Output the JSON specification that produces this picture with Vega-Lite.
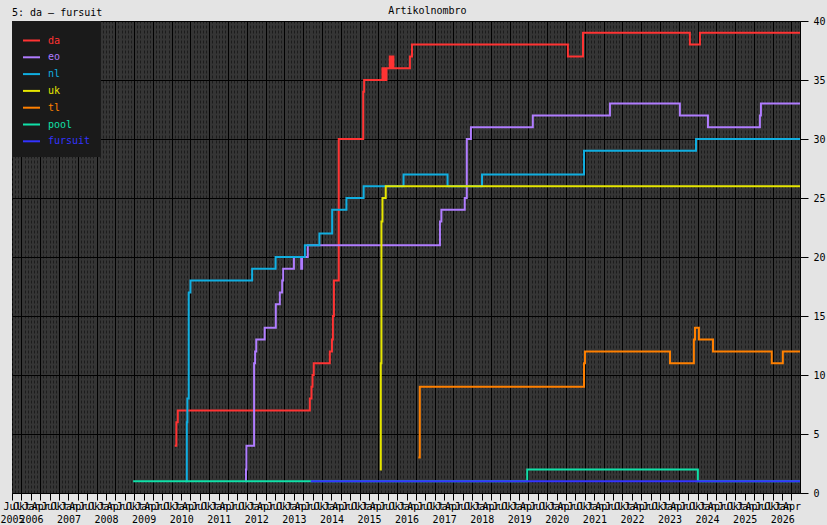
{
  "$schema": "https://vega.github.io/schema/vega-lite/v6.json",
  "width": 788,
  "height": 472,
  "autosize": "none",
  "padding": {"left": 12, "top": 21, "right": 27, "bottom": 32},
  "background": "#e4e4e4",
  "config": {
    "view": {"fill": "#353535", "stroke": "#000000", "strokeWidth": 1},
    "font": "DejaVu Sans Mono",
    "axis": {"labelFont": "DejaVu Sans Mono", "labelFontSize": 10, "labelColor": "#000000", "tickColor": "#000000", "domain": false, "titleFont": "DejaVu Sans Mono"},
    "title": {"font": "DejaVu Sans Mono", "fontSize": 10, "fontWeight": "normal", "color": "#000000"}
  },
  "title": {"text": "5: da – fursuit", "anchor": "start", "frame": "group", "offset": -21, "baseline": "alphabetic"},
  "data": {"values": [
    {"series": "da", "date": "2009-10-30", "value": 4},
    {"series": "da", "date": "2009-11-15", "value": 6},
    {"series": "da", "date": "2009-11-29", "value": 7},
    {"series": "da", "date": "2013-06-05", "value": 8},
    {"series": "da", "date": "2013-06-21", "value": 9},
    {"series": "da", "date": "2013-07-01", "value": 10},
    {"series": "da", "date": "2013-07-13", "value": 11},
    {"series": "da", "date": "2013-12-16", "value": 12},
    {"series": "da", "date": "2014-01-06", "value": 13},
    {"series": "da", "date": "2014-01-15", "value": 15},
    {"series": "da", "date": "2014-01-25", "value": 18},
    {"series": "da", "date": "2014-03-13", "value": 30},
    {"series": "da", "date": "2014-11-06", "value": 34},
    {"series": "da", "date": "2014-11-15", "value": 35},
    {"series": "da", "date": "2015-05-12", "value": 36},
    {"series": "da", "date": "2015-05-21", "value": 35},
    {"series": "da", "date": "2015-06-01", "value": 36},
    {"series": "da", "date": "2015-06-10", "value": 35},
    {"series": "da", "date": "2015-06-20", "value": 36},
    {"series": "da", "date": "2015-07-22", "value": 37},
    {"series": "da", "date": "2015-08-04", "value": 36},
    {"series": "da", "date": "2015-08-16", "value": 37},
    {"series": "da", "date": "2015-08-27", "value": 36},
    {"series": "da", "date": "2016-02-03", "value": 37},
    {"series": "da", "date": "2016-02-23", "value": 38},
    {"series": "da", "date": "2020-04-18", "value": 37},
    {"series": "da", "date": "2020-09-12", "value": 39},
    {"series": "da", "date": "2023-07-18", "value": 38},
    {"series": "da", "date": "2023-10-24", "value": 39},
    {"series": "da", "date": "2026-06-23", "value": 39},
    {"series": "eo", "date": "2011-09-18", "value": 1},
    {"series": "eo", "date": "2011-09-23", "value": 2},
    {"series": "eo", "date": "2011-09-28", "value": 4},
    {"series": "eo", "date": "2011-12-11", "value": 11},
    {"series": "eo", "date": "2011-12-21", "value": 12},
    {"series": "eo", "date": "2012-01-01", "value": 13},
    {"series": "eo", "date": "2012-03-23", "value": 14},
    {"series": "eo", "date": "2012-07-09", "value": 16},
    {"series": "eo", "date": "2012-08-17", "value": 17},
    {"series": "eo", "date": "2012-09-09", "value": 18},
    {"series": "eo", "date": "2012-09-19", "value": 19},
    {"series": "eo", "date": "2013-01-01", "value": 20},
    {"series": "eo", "date": "2013-03-13", "value": 19},
    {"series": "eo", "date": "2013-03-23", "value": 20},
    {"series": "eo", "date": "2013-05-16", "value": 21},
    {"series": "eo", "date": "2016-11-21", "value": 23},
    {"series": "eo", "date": "2016-12-05", "value": 24},
    {"series": "eo", "date": "2017-07-20", "value": 25},
    {"series": "eo", "date": "2017-08-09", "value": 30},
    {"series": "eo", "date": "2017-09-18", "value": 31},
    {"series": "eo", "date": "2019-05-13", "value": 32},
    {"series": "eo", "date": "2021-06-01", "value": 33},
    {"series": "eo", "date": "2023-04-12", "value": 32},
    {"series": "eo", "date": "2024-01-10", "value": 31},
    {"series": "eo", "date": "2025-05-29", "value": 32},
    {"series": "eo", "date": "2025-06-08", "value": 33},
    {"series": "eo", "date": "2026-06-23", "value": 33},
    {"series": "nl", "date": "2010-02-13", "value": 1},
    {"series": "nl", "date": "2010-02-25", "value": 6},
    {"series": "nl", "date": "2010-03-02", "value": 8},
    {"series": "nl", "date": "2010-03-15", "value": 17},
    {"series": "nl", "date": "2010-04-01", "value": 18},
    {"series": "nl", "date": "2011-11-22", "value": 19},
    {"series": "nl", "date": "2012-07-07", "value": 20},
    {"series": "nl", "date": "2013-04-17", "value": 21},
    {"series": "nl", "date": "2013-09-06", "value": 22},
    {"series": "nl", "date": "2014-01-08", "value": 24},
    {"series": "nl", "date": "2014-05-27", "value": 25},
    {"series": "nl", "date": "2014-11-10", "value": 26},
    {"series": "nl", "date": "2015-12-03", "value": 27},
    {"series": "nl", "date": "2017-02-03", "value": 26},
    {"series": "nl", "date": "2018-01-04", "value": 27},
    {"series": "nl", "date": "2020-09-22", "value": 29},
    {"series": "nl", "date": "2023-09-16", "value": 30},
    {"series": "nl", "date": "2026-06-23", "value": 30},
    {"series": "uk", "date": "2015-04-16", "value": 2},
    {"series": "uk", "date": "2015-04-26", "value": 11},
    {"series": "uk", "date": "2015-05-02", "value": 23},
    {"series": "uk", "date": "2015-05-12", "value": 25},
    {"series": "uk", "date": "2015-06-13", "value": 26},
    {"series": "uk", "date": "2026-06-23", "value": 26},
    {"series": "tl", "date": "2016-04-25", "value": 3},
    {"series": "tl", "date": "2016-05-09", "value": 9},
    {"series": "tl", "date": "2020-09-22", "value": 11},
    {"series": "tl", "date": "2020-10-01", "value": 12},
    {"series": "tl", "date": "2023-01-06", "value": 11},
    {"series": "tl", "date": "2023-08-26", "value": 13},
    {"series": "tl", "date": "2023-09-06", "value": 14},
    {"series": "tl", "date": "2023-10-14", "value": 13},
    {"series": "tl", "date": "2024-02-28", "value": 12},
    {"series": "tl", "date": "2025-09-21", "value": 11},
    {"series": "tl", "date": "2026-01-07", "value": 12},
    {"series": "tl", "date": "2026-06-23", "value": 12},
    {"series": "pool", "date": "2008-09-21", "value": 1},
    {"series": "pool", "date": "2019-03-20", "value": 2},
    {"series": "pool", "date": "2023-10-04", "value": 1},
    {"series": "pool", "date": "2026-06-23", "value": 1},
    {"series": "fursuit", "date": "2013-06-14", "value": 1},
    {"series": "fursuit", "date": "2026-06-23", "value": 1}
  ]},
  "layer": [
    {
      "mark": {"type": "point", "opacity": 0},
      "encoding": {
        "x": {"field": "date", "type": "temporal",
          "scale": {"type": "utc", "nice": false, "domain": [{"year": 2005, "month": 7, "date": 1, "utc": true}, {"year": 2026, "month": 6, "date": 23, "utc": true}]},
          "axis": {"orient": "bottom", "title": null, "labels": false, "ticks": false, "grid": true, "gridColor": "#1c1c1c", "gridDash": [3, 2], "gridWidth": 1, "gridOpacity": 1, "tickCount": {"interval": "month", "step": 1}}}
      }
    },
    {
      "mark": {"type": "point", "opacity": 0},
      "encoding": {
        "x": {"field": "date", "type": "temporal",
          "scale": {"type": "utc", "nice": false, "domain": [{"year": 2005, "month": 7, "date": 1, "utc": true}, {"year": 2026, "month": 6, "date": 23, "utc": true}]},
          "axis": {"orient": "bottom", "title": null, "labels": false, "ticks": false, "grid": true, "gridColor": "#000000", "gridWidth": 1, "gridOpacity": 1,
            "values": [
              {"year": 2005, "month": 10, "date": 1, "utc": true},
              {"year": 2006, "month": 4, "date": 1, "utc": true}, {"year": 2006, "month": 10, "date": 1, "utc": true},
              {"year": 2007, "month": 4, "date": 1, "utc": true}, {"year": 2007, "month": 10, "date": 1, "utc": true},
              {"year": 2008, "month": 4, "date": 1, "utc": true}, {"year": 2008, "month": 10, "date": 1, "utc": true},
              {"year": 2009, "month": 4, "date": 1, "utc": true}, {"year": 2009, "month": 10, "date": 1, "utc": true},
              {"year": 2010, "month": 4, "date": 1, "utc": true}, {"year": 2010, "month": 10, "date": 1, "utc": true},
              {"year": 2011, "month": 4, "date": 1, "utc": true}, {"year": 2011, "month": 10, "date": 1, "utc": true},
              {"year": 2012, "month": 4, "date": 1, "utc": true}, {"year": 2012, "month": 10, "date": 1, "utc": true},
              {"year": 2013, "month": 4, "date": 1, "utc": true}, {"year": 2013, "month": 10, "date": 1, "utc": true},
              {"year": 2014, "month": 4, "date": 1, "utc": true}, {"year": 2014, "month": 10, "date": 1, "utc": true},
              {"year": 2015, "month": 4, "date": 1, "utc": true}, {"year": 2015, "month": 10, "date": 1, "utc": true},
              {"year": 2016, "month": 4, "date": 1, "utc": true}, {"year": 2016, "month": 10, "date": 1, "utc": true},
              {"year": 2017, "month": 4, "date": 1, "utc": true}, {"year": 2017, "month": 10, "date": 1, "utc": true},
              {"year": 2018, "month": 4, "date": 1, "utc": true}, {"year": 2018, "month": 10, "date": 1, "utc": true},
              {"year": 2019, "month": 4, "date": 1, "utc": true}, {"year": 2019, "month": 10, "date": 1, "utc": true},
              {"year": 2020, "month": 4, "date": 1, "utc": true}, {"year": 2020, "month": 10, "date": 1, "utc": true},
              {"year": 2021, "month": 4, "date": 1, "utc": true}, {"year": 2021, "month": 10, "date": 1, "utc": true},
              {"year": 2022, "month": 4, "date": 1, "utc": true}, {"year": 2022, "month": 10, "date": 1, "utc": true},
              {"year": 2023, "month": 4, "date": 1, "utc": true}, {"year": 2023, "month": 10, "date": 1, "utc": true},
              {"year": 2024, "month": 4, "date": 1, "utc": true}, {"year": 2024, "month": 10, "date": 1, "utc": true},
              {"year": 2025, "month": 4, "date": 1, "utc": true}, {"year": 2025, "month": 10, "date": 1, "utc": true},
              {"year": 2026, "month": 4, "date": 1, "utc": true}
            ]}}
      }
    },
    {
      "mark": {"type": "point", "opacity": 0},
      "encoding": {
        "x": {"field": "date", "type": "temporal",
          "scale": {"type": "utc", "nice": false, "domain": [{"year": 2005, "month": 7, "date": 1, "utc": true}, {"year": 2026, "month": 6, "date": 23, "utc": true}]},
          "axis": {"orient": "bottom", "title": null, "grid": false, "ticks": false, "tickSize": 0, "labelPadding": 21, "labelOverlap": false, "labelFlush": false, "labelBound": false, "labelAlign": "center",
            "labelExpr": "utcFormat(datum.value, '%Y')",
            "values": [
              {"year": 2005, "month": 7, "date": 1, "utc": true},
              {"year": 2006, "month": 1, "date": 1, "utc": true}, {"year": 2007, "month": 1, "date": 1, "utc": true},
              {"year": 2008, "month": 1, "date": 1, "utc": true}, {"year": 2009, "month": 1, "date": 1, "utc": true},
              {"year": 2010, "month": 1, "date": 1, "utc": true}, {"year": 2011, "month": 1, "date": 1, "utc": true},
              {"year": 2012, "month": 1, "date": 1, "utc": true}, {"year": 2013, "month": 1, "date": 1, "utc": true},
              {"year": 2014, "month": 1, "date": 1, "utc": true}, {"year": 2015, "month": 1, "date": 1, "utc": true},
              {"year": 2016, "month": 1, "date": 1, "utc": true}, {"year": 2017, "month": 1, "date": 1, "utc": true},
              {"year": 2018, "month": 1, "date": 1, "utc": true}, {"year": 2019, "month": 1, "date": 1, "utc": true},
              {"year": 2020, "month": 1, "date": 1, "utc": true}, {"year": 2021, "month": 1, "date": 1, "utc": true},
              {"year": 2022, "month": 1, "date": 1, "utc": true}, {"year": 2023, "month": 1, "date": 1, "utc": true},
              {"year": 2024, "month": 1, "date": 1, "utc": true}, {"year": 2025, "month": 1, "date": 1, "utc": true},
              {"year": 2026, "month": 1, "date": 1, "utc": true}
            ]}}
      }
    },
    {
      "mark": {"type": "line", "interpolate": "step-after", "strokeWidth": 2},
      "encoding": {
        "x": {"field": "date", "type": "temporal",
          "scale": {"type": "utc", "nice": false, "domain": [{"year": 2005, "month": 7, "date": 1, "utc": true}, {"year": 2026, "month": 6, "date": 23, "utc": true}]},
          "axis": {"orient": "bottom", "title": null, "grid": false, "tickSize": 7, "tickWidth": 1, "labelPadding": 1, "labelOverlap": false, "labelFlush": false, "labelBound": false, "labelAlign": "center",
            "tickCount": {"interval": "month", "step": 3},
            "labelExpr": "['Jan','Feb','Mar','Apr','Maj','Jun','Jul','Aŭg','Sep','Okt','Nov','Dec'][utcmonth(datum.value)]"}},
        "y": {"field": "value", "type": "quantitative",
          "scale": {"domain": [0, 40], "nice": false, "zero": true},
          "axis": {"orient": "right", "values": [0, 5, 10, 15, 20, 25, 30, 35, 40], "grid": true, "gridColor": "#000000", "gridOpacity": 1, "gridWidth": 1, "tickSize": 8, "labelPadding": 5,
            "title": "Artikolnombro", "titleAngle": 0, "titleX": -373, "titleY": -11, "titleAlign": "center", "titleBaseline": "middle", "titleFontSize": 10, "titleFontWeight": "normal", "titleColor": "#000000"}},
        "color": {"field": "series", "type": "nominal",
          "scale": {"domain": ["da", "eo", "nl", "uk", "tl", "pool", "fursuit"], "range": ["#ff3333", "#b07cff", "#10aee0", "#e6e600", "#ff8000", "#10e0a8", "#3333ff"]},
          "legend": {"title": null, "orient": "top-left", "offset": 0, "padding": 10, "fillColor": "#1a1a1a", "symbolType": "stroke", "symbolSize": 289, "symbolStrokeWidth": 2, "symbolOffset": 0, "labelOffset": 7, "rowPadding": 1.8, "labelFont": "DejaVu Sans Mono", "labelFontSize": 10,
            "encode": {"labels": {"update": {"fill": {"scale": "color", "field": "value"}}}}}}
      }
    }
  ],
  "resolve": {"axis": {"x": "independent"}}
}
